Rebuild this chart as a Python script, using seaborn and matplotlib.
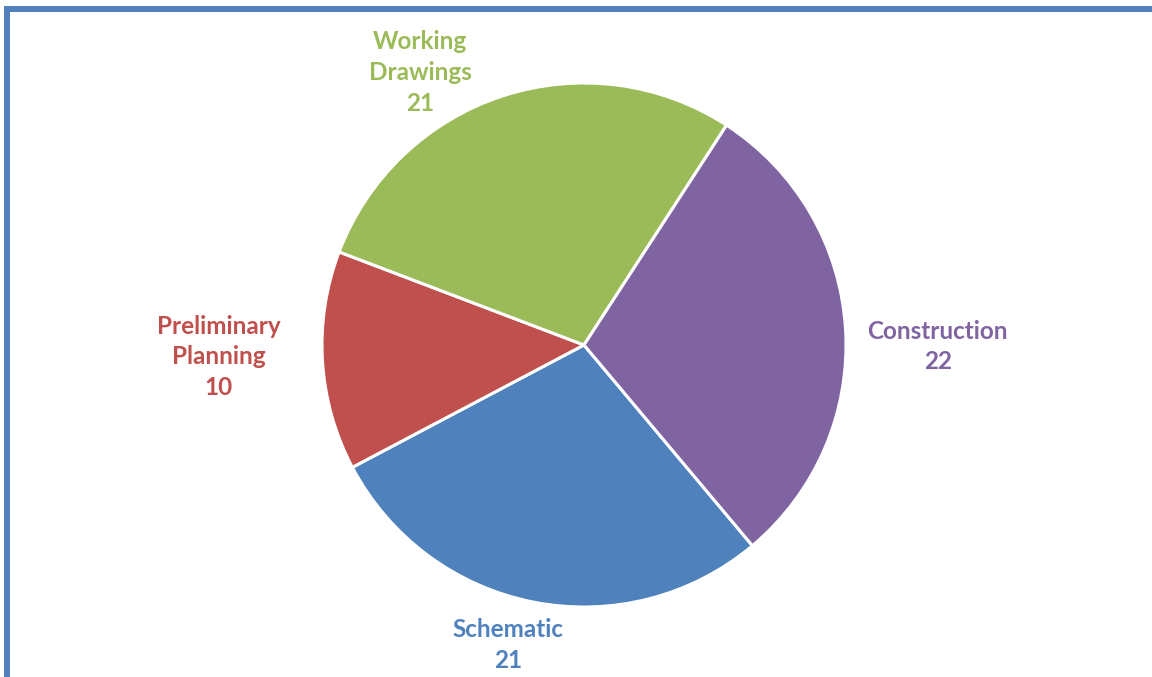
import matplotlib
matplotlib.use("Agg")
import matplotlib.pyplot as plt
import seaborn as sns
from matplotlib.patches import Rectangle

# Project phases, in the order the pie is drawn (clockwise)
phases = ["Schematic", "Preliminary\nPlanning", "Working\nDrawings", "Construction"]
counts = [21, 10, 21, 22]
colors = ["#4F81BD", "#C0504D", "#9BBB59", "#8064A2"]

# label centres (data units, pie radius = 1)
label_pos = [(-0.29, -1.145), (-1.395, -0.045), (-0.625, 1.04), (1.35, -0.005)]

sns.set_theme(style="white")
plt.rcParams["font.family"] = ["Lato", "DejaVu Sans"]

W, H, DPI = 1152, 677, 100
R_PX = 262
CX, CY = 584, 345

fig = plt.figure(figsize=(W / DPI, H / DPI), dpi=DPI)
ax = fig.add_axes([0, 0, 1, 1])
ax.pie(counts, colors=colors, startangle=-50, counterclock=False,
       radius=1, center=(0, 0),
       wedgeprops=dict(edgecolor="white", linewidth=2.2))
ax.set_xlim(-CX / R_PX, (W - CX) / R_PX)
ax.set_ylim((CY - H) / R_PX, CY / R_PX)
ax.set_aspect("equal")
ax.axis("off")

for name, val, col, (x, y) in zip(phases, counts, colors, label_pos):
    ax.text(x, y, f"{name}\n{val}", color=col, fontsize=17.5, fontweight="bold",
            ha="center", va="center", linespacing=1.4)

# outer chart frame (cropped at right and bottom)
frame = Rectangle((7 / W, -0.05), 1.2, 1 - 9 / H + 0.05, transform=fig.transFigure,
                  fill=False, edgecolor="#4F81BD", linewidth=4.3)
fig.patches.append(frame)

fig.savefig("out.png", dpi=DPI)
